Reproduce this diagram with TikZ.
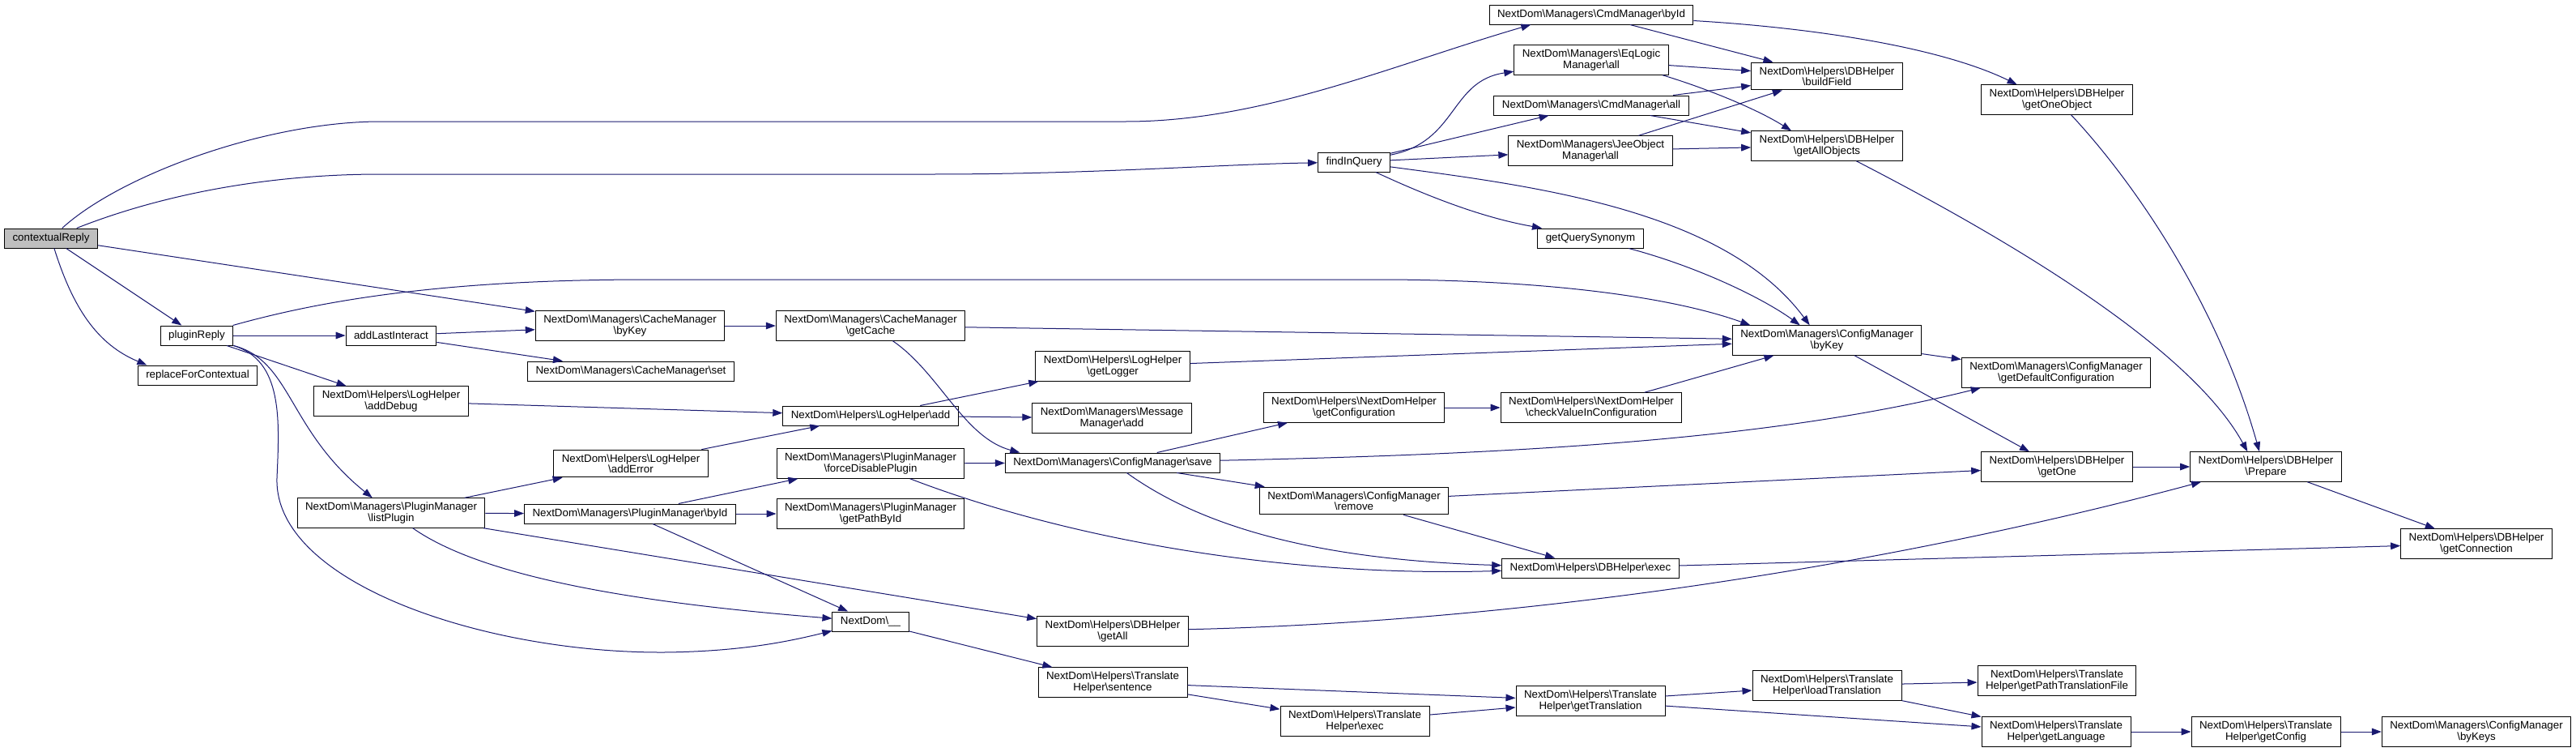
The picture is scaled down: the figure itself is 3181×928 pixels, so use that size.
\documentclass[tikz,border=0pt]{standalone}
\usepackage{fontspec}
\setmainfont{Liberation Sans}
\usepackage{xcolor}
\usepackage{tikz}
\usetikzlibrary{arrows.meta}
\definecolor{edgec}{HTML}{191970}
\definecolor{rootfill}{HTML}{BFBFBF}
\newcommand{\nbs}{\textbackslash}
\tikzset{
  fnbox/.style={draw=black,line width=0.75pt,fill=white,align=center,font=\fontsize{10}{10}\selectfont,inner xsep=7.5pt,inner ysep=4pt,minimum height=18pt},
  rootbox/.style={fnbox,fill=rootfill},
  call/.style={-{Triangle[length=9pt,width=6.5pt]},edgec,line width=0.75pt}
}
\begin{document}
\begin{tikzpicture}[x=0.75pt,y=-0.75pt]
\path[fill=white] (0,0) rectangle (3181,928);
% callers
\node[rootbox] (creply) at (63,294) {contextualReply};
\node[fnbox] (preply) at (243,414) {pluginReply};
\node[fnbox] (rctx) at (244,463) {replaceForContextual};
\node[fnbox] (alast) at (483,414) {addLastInteract};
\node[fnbox] (ldebug) at (483,495) {NextDom\nbs Helpers\nbs LogHelper\\\nbs addDebug};
\node[fnbox] (plist) at (483,633) {NextDom\nbs Managers\nbs PluginManager\\\nbs listPlugin};
\node[fnbox] (cbyk) at (778,402) {NextDom\nbs Managers\nbs CacheManager\\\nbs byKey};
\node[fnbox] (cset) at (779,458) {NextDom\nbs Managers\nbs CacheManager\nbs set};
\node[fnbox] (lerror) at (779,572) {NextDom\nbs Helpers\nbs LogHelper\\\nbs addError};
\node[fnbox] (pbyid) at (778,634) {NextDom\nbs Managers\nbs PluginManager\nbs byId};
\node[fnbox] (gcache) at (1075,402) {NextDom\nbs Managers\nbs CacheManager\\\nbs getCache};
\node[fnbox] (ladd) at (1075,513) {NextDom\nbs Helpers\nbs LogHelper\nbs add};
\node[fnbox] (fdis) at (1075,572) {NextDom\nbs Managers\nbs PluginManager\\\nbs forceDisablePlugin};
\node[fnbox] (gpath) at (1075,634) {NextDom\nbs Managers\nbs PluginManager\\\nbs getPathById};
\node[fnbox] (ndu) at (1075,767) {NextDom\nbs\_\_};
\node[fnbox] (glog) at (1374,452) {NextDom\nbs Helpers\nbs LogHelper\\\nbs getLogger};
\node[fnbox] (madd) at (1373,516) {NextDom\nbs Managers\nbs Message\\Manager\nbs add};
\node[fnbox] (csave) at (1374,571) {NextDom\nbs Managers\nbs ConfigManager\nbs save};
\node[fnbox] (dgall) at (1374,779) {NextDom\nbs Helpers\nbs DBHelper\\\nbs getAll};
\node[fnbox] (tsent) at (1374,842) {NextDom\nbs Helpers\nbs Translate\\Helper\nbs sentence};
\node[fnbox] (fquery) at (1672,200) {findInQuery};
\node[fnbox] (gconf) at (1672,503) {NextDom\nbs Helpers\nbs NextDomHelper\\\nbs getConfiguration};
\node[fnbox] (crem) at (1672,618) {NextDom\nbs Managers\nbs ConfigManager\\\nbs remove};
\node[fnbox] (texec) at (1673,890) {NextDom\nbs Helpers\nbs Translate\\Helper\nbs exec};
\node[fnbox] (cmdbyid) at (1965,18) {NextDom\nbs Managers\nbs CmdManager\nbs byId};
\node[fnbox] (eqall) at (1965,74) {NextDom\nbs Managers\nbs EqLogic\\Manager\nbs all};
\node[fnbox] (cmdall) at (1965,130) {NextDom\nbs Managers\nbs CmdManager\nbs all};
\node[fnbox] (jeeall) at (1964,186) {NextDom\nbs Managers\nbs JeeObject\\Manager\nbs all};
\node[fnbox] (gsyn) at (1964,294) {getQuerySynonym};
\node[fnbox] (cval) at (1965,503) {NextDom\nbs Helpers\nbs NextDomHelper\\\nbs checkValueInConfiguration};
\node[fnbox] (dexec) at (1964,701) {NextDom\nbs Helpers\nbs DBHelper\nbs exec};
\node[fnbox] (gtrans) at (1964,865) {NextDom\nbs Helpers\nbs Translate\\Helper\nbs getTranslation};
\node[fnbox] (bfield) at (2256,94) {NextDom\nbs Helpers\nbs DBHelper\\\nbs buildField};
\node[fnbox] (gallobj) at (2256,180) {NextDom\nbs Helpers\nbs DBHelper\\\nbs getAllObjects};
\node[fnbox] (cfgbyk) at (2256,420) {NextDom\nbs Managers\nbs ConfigManager\\\nbs byKey};
\node[fnbox] (ltrans) at (2256,846) {NextDom\nbs Helpers\nbs Translate\\Helper\nbs loadTranslation};
\node[fnbox] (gobj) at (2540,123) {NextDom\nbs Helpers\nbs DBHelper\\\nbs getOneObject};
\node[fnbox] (gdef) at (2539,460) {NextDom\nbs Managers\nbs ConfigManager\\\nbs getDefaultConfiguration};
\node[fnbox] (gone) at (2540,576) {NextDom\nbs Helpers\nbs DBHelper\\\nbs getOne};
\node[fnbox] (gptf) at (2540,840) {NextDom\nbs Helpers\nbs Translate\\Helper\nbs getPathTranslationFile};
\node[fnbox] (glang) at (2539,903) {NextDom\nbs Helpers\nbs Translate\\Helper\nbs getLanguage};
\node[fnbox] (prep) at (2798,576) {NextDom\nbs Helpers\nbs DBHelper\\\nbs Prepare};
\node[fnbox] (gcfg) at (2798,903) {NextDom\nbs Helpers\nbs Translate\\Helper\nbs getConfig};
\node[fnbox] (gconn) at (3058,671) {NextDom\nbs Helpers\nbs DBHelper\\\nbs getConnection};
\node[fnbox] (bykeys) at (3058,903) {NextDom\nbs Managers\nbs ConfigManager\\\nbs byKeys};
% straight calls
\foreach \a/\b in {creply/cbyk,creply/preply,preply/alast,preply/ldebug,alast/cbyk,alast/cset,
  cbyk/gcache,gcache/cfgbyk,ldebug/ladd,lerror/ladd,ladd/glog,ladd/madd,glog/cfgbyk,
  plist/lerror,plist/pbyid,plist/dgall,pbyid/fdis,pbyid/gpath,pbyid/ndu,fdis/csave,
  csave/gconf,csave/crem,gconf/cval,cval/cfgbyk,crem/gone,crem/dexec,dexec/gconn,
  ndu/tsent,tsent/gtrans,tsent/texec,texec/gtrans,gtrans/ltrans,gtrans/glang,
  ltrans/gptf,ltrans/glang,glang/gcfg,gcfg/bykeys,fquery/cmdall,fquery/jeeall,
  cmdbyid/bfield,eqall/bfield,cmdall/bfield,cmdall/gallobj,jeeall/bfield,jeeall/gallobj,
  cfgbyk/gdef,cfgbyk/gone,gone/prep,prep/gconn}
  \draw[call] (\a) -- (\b);
% curved calls
\draw[call] (creply) .. controls (150,215) and (330,150) .. (470,150) -- (1390,150) .. controls (1560,150) and (1720,80) .. ([xshift=-56pt]cmdbyid.south);
\draw[call] (creply) .. controls (200,240) and (330,215) .. (470,215) -- (1150,215) .. controls (1350,215) and (1500,203) .. (fquery);
\draw[call] (creply) .. controls (90,380) and (120,425) .. ([xshift=-47pt]rctx.north);
\draw[call] (preply) .. controls (400,370) and (550,345) .. (800,345) -- (1700,345) .. controls (1900,345) and (2060,365) .. ([xshift=-71pt]cfgbyk.north);
\draw[call] (preply.south east) .. controls (360,445) and (355,530) .. (plist);
\draw[call] (preply.south east) .. controls (350,445) and (345,520) .. (342,590) .. controls (338,720) and (600,806) .. (820,805) .. controls (920,804) and (980,790) .. (ndu);
\draw[call] (gcache) .. controls (1160,460) and (1190,540) .. ([xshift=-86pt]csave.north);
\draw[call] (plist) .. controls (600,715) and (800,745) .. (ndu);
\draw[call] (fdis) .. controls (1330,670) and (1600,712) .. (dexec);
\draw[call] (csave) .. controls (1900,560) and (2200,540) .. ([xshift=-70pt]gdef.south);
\draw[call] (csave) .. controls (1470,640) and (1600,690) .. (dexec);
\draw[call] (dgall) .. controls (1950,765) and (2400,680) .. ([xshift=-60pt]prep.south);
\draw[call] (fquery) .. controls (1800,175) and (1790,100) .. (eqall);
\draw[call] (fquery) .. controls (1790,255) and (1850,272) .. ([xshift=-45pt]gsyn.north);
\draw[call] (fquery) .. controls (1900,230) and (2130,260) .. ([xshift=-16pt]cfgbyk.north);
\draw[call] (gsyn) .. controls (2100,330) and (2180,370) .. ([xshift=-25pt]cfgbyk.north);
\draw[call] (cmdbyid) .. controls (2250,35) and (2400,60) .. ([xshift=-37pt]gobj.north);
\draw[call] ([xshift=66pt]eqall.south) .. controls (2110,110) and (2170,135) .. ([xshift=-33pt]gallobj.north);
\draw[call] (gobj) .. controls (2640,230) and (2740,380) .. ([xshift=-6pt]prep.north);
\draw[call] (gallobj) .. controls (2450,280) and (2700,420) .. ([xshift=-17pt]prep.north);
\end{tikzpicture}
\end{document}
